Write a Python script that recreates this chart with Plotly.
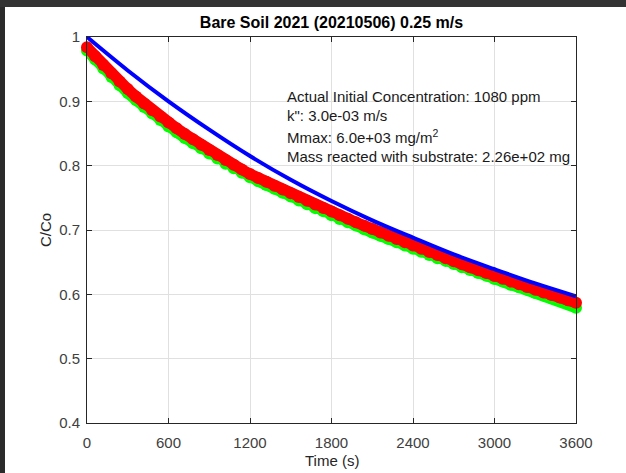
import plotly.graph_objects as go

# ---- data ----
t_data = list(range(0, 3601, 60))

red_vals = [0.984, 0.970, 0.9565, 0.9435, 0.931, 0.919, 0.9076, 0.8967, 0.8863, 0.8764, 0.867,
            0.8581, 0.8494, 0.8409, 0.8326, 0.8245, 0.8166, 0.8089, 0.8014, 0.7941, 0.787,
            0.7809, 0.7749, 0.7689, 0.763, 0.7571, 0.7513, 0.7455, 0.7398, 0.7342, 0.7286,
            0.723, 0.7176, 0.7121, 0.7068, 0.7015, 0.6962, 0.691, 0.6859, 0.6808, 0.6758,
            0.6708, 0.6659, 0.661, 0.6562, 0.6515, 0.6468, 0.6421, 0.6376, 0.633, 0.6286,
            0.6242, 0.6198, 0.6155, 0.6113, 0.6071, 0.603, 0.5989, 0.5949, 0.5909, 0.587]

green_vals = [0.979, 0.965, 0.951, 0.938, 0.925, 0.913, 0.902, 0.891, 0.881, 0.871, 0.861,
              0.852, 0.843, 0.835, 0.827, 0.819, 0.811, 0.803, 0.796, 0.789, 0.782,
              0.776, 0.770, 0.764, 0.758, 0.752, 0.746, 0.740, 0.734, 0.729, 0.723,
              0.717, 0.712, 0.707, 0.701, 0.696, 0.691, 0.686, 0.681, 0.676, 0.671,
              0.666, 0.661, 0.656, 0.652, 0.647, 0.642, 0.638, 0.633, 0.629, 0.624,
              0.620, 0.615, 0.611, 0.607, 0.602, 0.598, 0.594, 0.590, 0.586, 0.579]

t_model = [0, 300, 600, 900, 1200, 1500, 1800, 2100, 2400, 2700, 3000, 3300, 3600]
blue_vals = [1.000, 0.948, 0.900, 0.856, 0.815, 0.778, 0.745, 0.715, 0.688, 0.662, 0.639, 0.617, 0.597]

x_ticks = [0, 600, 1200, 1800, 2400, 3000, 3600]
y_ticks = [0.4, 0.5, 0.6, 0.7, 0.8, 0.9, 1.0]
y_tick_text = ["0.4", "0.5", "0.6", "0.7", "0.8", "0.9", "1"]

title_text = "Bare Soil 2021 (20210506) 0.25 m/s"
x_title = "Time (s)"
y_title = "C/Co"
info_lines = ["Actual Initial Concentration: 1080 ppm",
              "k\": 3.0e-03 m/s",
              "Mmax: 6.0e+03 mg/m<sup>2</sup>",
              "Mass reacted with substrate: 2.26e+02 mg"]
info_y = [0.908, 0.878, 0.846, 0.815]

# ---- figure ----
W, H = 626, 473
ML, MR, MT, MB = 87, 50, 37, 50
pw, ph = W - ML - MR, H - MT - MB
FONT = "Liberation Sans, Arial"


def px2paper_x(px):
    return (px - ML) / pw


def px2paper_y(py):
    return (H - MB - py) / ph


fig = go.Figure()
fig.add_trace(go.Scatter(x=t_data, y=green_vals, mode="lines+markers",
                         line=dict(color="#00ff00", width=11),
                         marker=dict(color="#00ff00", size=12),
                         cliponaxis=False, showlegend=False))
fig.add_trace(go.Scatter(x=t_data, y=red_vals, mode="lines+markers",
                         line=dict(color="#ff0000", width=11),
                         marker=dict(color="#ff0000", size=12),
                         cliponaxis=False, showlegend=False))
fig.add_trace(go.Scatter(x=t_model, y=blue_vals, mode="lines",
                         line=dict(color="#0000ff", width=4, shape="spline"),
                         cliponaxis=False, showlegend=False))

for txt, yy in zip(info_lines, info_y):
    fig.add_annotation(x=1458, y=yy, xref="x", yref="y", text=txt, showarrow=False,
                       xanchor="left", yanchor="middle",
                       font=dict(family=FONT, size=15, color="#1a1a1a"))

# axis titles as annotations (fixed pixel placement)
fig.add_annotation(x=0.5, y=px2paper_y(461), xref="paper", yref="paper", text=x_title,
                   showarrow=False, xanchor="center", yanchor="middle",
                   font=dict(family=FONT, size=15, color="#262626"))
fig.add_annotation(x=px2paper_x(45), y=0.5, xref="paper", yref="paper", text=y_title,
                   showarrow=False, xanchor="center", yanchor="middle", textangle=-90,
                   font=dict(family=FONT, size=15, color="#262626"))

# dark frame strips on left and top edges
fig.add_shape(type="rect", xref="paper", yref="paper",
              x0=px2paper_x(0), x1=px2paper_x(5), y0=px2paper_y(H), y1=px2paper_y(0),
              fillcolor="#2b2b2b", line=dict(width=0), layer="above")
fig.add_shape(type="rect", xref="paper", yref="paper",
              x0=px2paper_x(0), x1=px2paper_x(W), y0=px2paper_y(7), y1=px2paper_y(0),
              fillcolor="#333333", line=dict(width=0), layer="above")

axis_common = dict(showgrid=True, gridcolor="#e0e0e0", gridwidth=1,
                   showline=True, linecolor="#262626", linewidth=1, mirror="ticks",
                   ticks="inside", ticklen=5, tickcolor="#262626", zeroline=False,
                   automargin=False,
                   tickfont=dict(family=FONT, size=15, color="#404040"))

fig.update_xaxes(range=[0, 3600], tickvals=x_ticks, ticklabelstandoff=6, **axis_common)
fig.update_yaxes(range=[0.4, 1.0], tickvals=y_ticks, ticktext=y_tick_text,
                 ticklabelstandoff=3, **axis_common)

fig.update_layout(width=W, height=H, margin=dict(l=ML, r=MR, t=MT, b=MB),
                  paper_bgcolor="white", plot_bgcolor="white",
                  title=dict(text="<b>" + title_text + "</b>", x=(ML + pw / 2) / W, xanchor="center",
                             y=1 - 22 / H, yanchor="middle", yref="container",
                             font=dict(family=FONT, size=16, color="#000000")))

fig.write_html("out.html")
